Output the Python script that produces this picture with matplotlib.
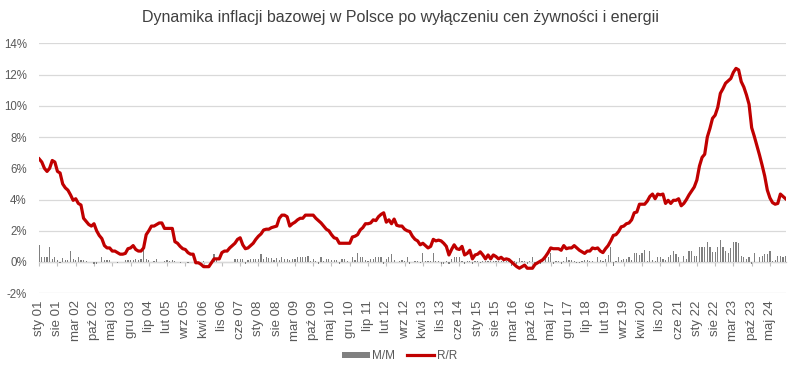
import numpy as np
import matplotlib
matplotlib.use("Agg")
import matplotlib.pyplot as plt
from matplotlib.lines import Line2D
from matplotlib.patches import Patch

plt.rcParams['font.family'] = ['Liberation Sans', 'DejaVu Sans']

title = "Dynamika inflacji bazowej w Polsce po wyłączeniu cen żywności i energii"
month_names = ["sty", "lut", "mar", "kwi", "maj", "cze", "lip", "sie", "wrz", "paź", "lis", "gru"]
start_year = 2001

# R/R (year over year, %), Jan 2001 - Nov 2024
rr = [
    6.6, 6.4, 6.0, 5.8, 6.0, 6.5, 6.4, 5.8, 5.7, 5.0, 4.75, 4.6,          # 2001
    4.3, 3.95, 4.05, 3.75, 3.65, 2.8, 2.6, 2.4, 2.3, 2.45, 2.0, 1.7,       # 2002
    1.5, 1.05, 0.9, 0.9, 0.7, 0.7, 0.6, 0.5, 0.5, 0.55, 0.85, 0.9,         # 2003
    1.05, 0.8, 0.7, 0.7, 0.9, 1.75, 2.0, 2.3, 2.3, 2.4, 2.5, 2.5,          # 2004
    2.15, 2.15, 2.15, 2.15, 1.3, 1.2, 1.0, 0.85, 0.8, 0.6, 0.5, 0.5,       # 2005
    -0.05, -0.05, -0.15, -0.3, -0.3, -0.3, -0.05, 0.2, 0.2, 0.2, 0.6, 0.7, # 2006
    0.7, 0.9, 1.05, 1.2, 1.45, 1.55, 1.1, 0.85, 0.9, 1.05, 1.2, 1.45,      # 2007
    1.65, 1.8, 2.05, 2.1, 2.1, 2.2, 2.25, 2.3, 2.8, 3.0, 3.0, 2.9,         # 2008
    2.3, 2.45, 2.55, 2.7, 2.8, 2.8, 3.0, 3.0, 3.0, 3.0, 2.8, 2.65,         # 2009
    2.5, 2.3, 2.1, 2.0, 1.75, 1.55, 1.5, 1.2, 1.2, 1.2, 1.2, 1.2,          # 2010
    1.6, 1.65, 1.75, 2.05, 2.2, 2.45, 2.45, 2.5, 2.7, 2.65, 2.9, 3.05,     # 2011
    3.15, 2.55, 2.7, 2.45, 2.75, 2.35, 2.3, 2.3, 2.1, 2.0, 1.95, 1.65,     # 2012
    1.45, 1.35, 1.1, 1.2, 1.05, 0.9, 1.0, 1.45, 1.35, 1.4, 1.35, 1.2,      # 2013
    1.0, 0.45, 0.8, 1.1, 0.85, 0.8, 1.0, 0.45, 0.55, 0.75, 0.2, 0.45,      # 2014
    0.5, 0.65, 0.45, 0.2, 0.45, 0.2, 0.45, 0.35, 0.2, 0.3, 0.15, 0.2,      # 2015
    0.15, 0.0, -0.15, -0.3, -0.4, -0.3, -0.2, -0.4, -0.4, -0.4, -0.15, -0.05, # 2016
    0.05, 0.15, 0.35, 0.6, 0.9, 0.85, 0.85, 0.85, 0.75, 1.05, 0.85, 0.9,   # 2017
    0.9, 1.05, 0.9, 0.75, 0.65, 0.55, 0.7, 0.7, 0.9, 0.85, 0.9, 0.7,       # 2018
    0.6, 0.85, 1.05, 1.35, 1.7, 1.75, 1.95, 2.25, 2.3, 2.45, 2.5, 2.7,     # 2019
    3.15, 3.2, 3.7, 3.7, 3.7, 3.9, 4.2, 4.35, 4.05, 4.35, 4.3, 4.35,       # 2020
    3.75, 3.95, 3.75, 3.95, 3.95, 4.05, 3.6, 3.75, 4.0, 4.3, 4.55, 4.8,    # 2021
    5.25, 6.15, 6.7, 6.9, 8.0, 8.55, 9.2, 9.4, 9.9, 10.8, 11.1, 11.45,     # 2022
    11.6, 11.75, 12.15, 12.4, 12.3, 11.55, 11.2, 10.7, 10.1, 8.6, 8.05, 7.45, # 2023
    6.85, 6.2, 5.5, 4.6, 4.1, 3.8, 3.7, 3.75, 4.35, 4.2, 4.05,             # 2024
]

# M/M (month over month, %), Jan 2001 - Nov 2024
mm = [
    1.06, 0.3, 0.35, 0.35, 0.95, 0.2, 0.3, 0.1, -0.05, 0.25, 0.1, 0.1,     # 2001
    0.7, 0.2, 0.15, 0.3, 0.1, 0.1, 0.05, 0.0, 0.0, -0.1, -0.1, 0.0,        # 2002
    0.3, 0.1, 0.1, 0.1, 0.0, 0.0, -0.05, 0.0, 0.0, 0.1, 0.1, 0.1,          # 2003
    0.1, 0.2, 0.1, 0.2, 1.06, 0.2, 0.1, 0.0, 0.05, 0.2, 0.0, 0.0,          # 2004
    0.05, 0.1, 0.05, 0.1, 0.05, 0.0, -0.05, 0.0, 0.0, -0.05, 0.0, 0.0,     # 2005
    -0.05, 0.0, 0.0, 0.05, 0.0, 0.0, 0.05, 0.5, 0.1, 0.0, 0.0, 0.0,        # 2006
    0.0, 0.0, 0.0, 0.2, 0.2, 0.2, 0.2, -0.15, 0.1, 0.2, 0.2, 0.2,          # 2007
    0.2, 0.5, 0.2, 0.3, 0.25, 0.25, 0.1, 0.25, 0.1, 0.3, 0.2, 0.2,         # 2008
    0.15, 0.2, 0.2, 0.35, 0.35, 0.3, 0.35, 0.4, 0.05, 0.2, 0.05, -0.1,     # 2009
    0.3, 0.05, 0.2, 0.2, 0.1, 0.15, 0.1, -0.1, 0.2, 0.2, 0.05, 0.0,        # 2010
    0.35, 0.1, 0.55, 0.35, 0.35, 0.1, 0.05, 0.2, 0.2, 0.3, 0.35, 0.3,      # 2011
    -0.1, 0.2, 0.35, 0.5, 0.1, 0.0, 0.05, 0.1, 0.05, 0.3, -0.1, 0.0,       # 2012
    0.05, 0.05, -0.05, 0.57, 0.05, 0.05, 0.05, 0.57, 0.05, 0.05, -0.1, -0.1, # 2013
    0.05, -0.1, 0.2, 0.3, 0.3, 0.3, 0.05, -0.1, 0.05, 0.05, -0.1, 0.05,    # 2014
    0.05, -0.05, 0.05, 0.05, 0.05, 0.05, 0.05, 0.05, 0.05, 0.05, 0.05, 0.05, # 2015
    0.05, -0.25, 0.05, -0.1, 0.25, 0.05, 0.05, -0.1, 0.05, 0.35, -0.1, -0.1, # 2016
    -0.1, 0.1, 0.25, 0.3, 0.57, -0.1, 0.05, 0.05, -0.1, 0.05, 0.3, 0.1,    # 2017
    0.1, 0.05, -0.05, -0.05, 0.05, 0.1, 0.1, 0.05, 0.05, 0.0, 0.3, 0.1,    # 2018
    0.05, 0.2, 0.42, 0.93, -0.28, 0.05, 0.3, 0.1, 0.2, 0.2, 0.35, 0.1,     # 2019
    0.57, 0.57, 0.47, 0.57, 0.75, 0.05, 0.68, 0.1, 0.05, 0.35, 0.3, 0.2,   # 2020
    0.1, 0.34, 0.42, 0.72, 0.5, 0.34, 0.0, 0.4, 0.2, 0.72, 0.72, 0.4,      # 2021
    0.4, 0.96, 0.96, 0.96, 1.28, 0.96, 0.62, 0.62, 0.96, 1.4, 0.96, 0.72,  # 2022
    0.57, 0.9, 1.28, 1.28, 1.23, 0.36, 0.3, 0.2, 0.3, -0.1, 0.57, 0.0,     # 2023
    0.3, 0.4, 0.53, 0.53, 0.72, 0.08, 0.15, 0.4, 0.36, 0.3, 0.4,           # 2024
]

y_ticks = [-2, 0, 2, 4, 6, 8, 10, 12, 14]
label_step = 7

n = len(rr)
x = np.arange(n)
labels_all = [f"{month_names[i % 12]} {(start_year + i // 12) % 100:02d}" for i in range(n)]
tick_pos = x[::label_step]
tick_lab = [labels_all[i] for i in tick_pos]

text_col = "#595959"
fig = plt.figure(figsize=(8.0, 3.74), dpi=100)
ax = fig.add_axes([0.049, 0.216, 0.933, 0.668])

ax.bar(x, mm, width=0.45, color="#808080", zorder=2)
ax.plot(x, rr, color="#C00000", lw=2.3, zorder=3, solid_joinstyle="round")

ax.set_xlim(0, n - 1)
ax.set_ylim(-2, 14)
ax.set_yticks(y_ticks)
ax.set_yticklabels([f"{v}%" for v in y_ticks])
ax.yaxis.grid(True, color="#d9d9d9", lw=0.9, zorder=0)
ax.set_axisbelow(True)
for s in ax.spines.values():
    s.set_visible(False)
ax.tick_params(axis="y", length=0, labelsize=8.3, labelcolor=text_col, pad=9)

ax.set_xticks(tick_pos)
ax.set_xticklabels(tick_lab, rotation=90)
ax.tick_params(axis="x", length=0, labelsize=9.5, labelcolor=text_col, pad=5)

# category axis line at zero with tick marks
frac0 = (0 - (-2)) / (14 - (-2))
sec = ax.secondary_xaxis(frac0)
sec.set_xticks(tick_pos)
sec.set_xticklabels([])
sec.tick_params(axis="x", direction="out", length=3, color="#bfbfbf", width=0.8)
sec.spines["bottom"].set_color("#bfbfbf")
sec.spines["bottom"].set_linewidth(0.9)

fig.suptitle(title, x=0.5, y=0.972, fontsize=11.5, color="#404040")

handles = [Patch(facecolor="#808080", edgecolor="none"),
           Line2D([0], [0], color="#C00000", lw=2.3)]
fig.legend(handles, ["M/M", "R/R"], loc="center", bbox_to_anchor=(0.5, 0.048),
           ncol=2, frameon=False, fontsize=8.5, labelcolor=text_col,
           handlelength=2.3, handleheight=0.45, columnspacing=1.0, handletextpad=0.25)

fig.savefig("out.png", dpi=100)
